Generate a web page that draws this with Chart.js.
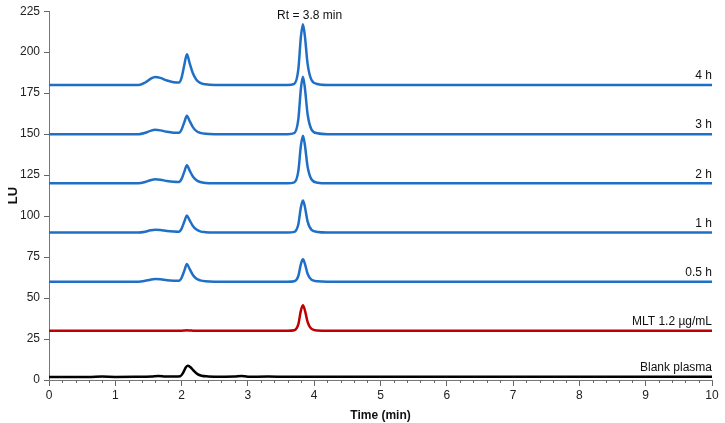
<!DOCTYPE html>
<html><head><meta charset="utf-8">
<script src="https://cdn.jsdelivr.net/npm/chart.js@4"></script>
<style>html,body{margin:0;padding:0;background:#fff}</style>
</head><body>
<canvas id="c" width="725" height="423"></canvas>
<script>
// Shared time points (min)
const times = [0, 1.35, 1.45, 1.53, 1.6, 1.68, 1.78, 1.88, 1.96, 2.0, 2.04, 2.08, 2.12, 2.17, 2.22, 2.28, 2.36, 2.5, 3.6, 3.7, 3.76, 3.8, 3.83, 3.86, 3.9, 3.96, 4.05, 4.2, 10];
const trace4h  = [180, 180, 181.5, 183.7, 184.9, 184.3, 182.7, 181.7, 181.5, 184.5, 192, 198.7, 193.5, 187.1, 183.4, 181.3, 180.4, 180, 180, 180.7, 189.3, 209.6, 217, 209.6, 193, 183, 180.6, 180, 180];
const trace3h  = [150, 150, 150.8, 152, 152.6, 152.3, 151.4, 150.9, 150.8, 152.8, 157.2, 161.2, 158.1, 154.3, 152, 150.8, 150.2, 150, 150, 150.7, 158.8, 178, 185, 178, 162.3, 152.8, 150.5, 150, 150];
const trace2h  = [120, 120, 120.8, 121.9, 122.5, 122.2, 121.4, 120.9, 120.8, 122.7, 127, 131, 127.9, 124.2, 122, 120.8, 120.2, 120, 120, 120.6, 127.3, 143.2, 149, 143.2, 130.2, 122.3, 120.4, 120, 120];
const trace1h  = [90, 90, 90.5, 91.3, 91.7, 91.5, 90.9, 90.6, 90.5, 92.4, 96.5, 100.4, 97.5, 94, 91.9, 90.7, 90.2, 90, 90, 90.4, 94.9, 105.6, 109.5, 105.6, 96.8, 91.6, 90.3, 90, 90];
const trace05h = [60, 60, 60.5, 61.2, 61.6, 61.4, 60.9, 60.6, 60.5, 62.4, 66.6, 70.8, 67.8, 64.1, 61.9, 60.8, 60.2, 60, 60, 60.3, 63.4, 70.9, 73.6, 70.9, 64.8, 61.1, 60.2, 60, 60];
const traceMLT = [30, 30, 30, 30, 30, 30, 30, 30, 30, 30.1, 30.2, 30.3, 30.2, 30.1, 30, 30, 30, 30, 30, 30.3, 33.9, 42.5, 45.6, 42.5, 35.5, 31.2, 30.2, 30, 30];
// Blank plasma has its own sampling
const blankTimes = [0, 0.3, 0.6, 0.8, 1.0, 1.3, 1.55, 1.65, 1.75, 1.9, 1.98, 2.02, 2.06, 2.09, 2.13, 2.18, 2.24, 2.3, 2.4, 2.6, 2.8, 2.9, 3.0, 3.3, 3.6, 4.0, 5, 6, 7, 8, 9, 10];
const traceBlank = [1.8, 1.9, 1.8, 2.1, 1.9, 2.0, 2.2, 2.5, 2.2, 2.1, 2.3, 4.2, 7.5, 8.7, 8.0, 5.8, 3.6, 2.6, 2.2, 2.0, 2.1, 2.5, 2.0, 2.1, 2.0, 2.0, 2.0, 2.0, 2.0, 2.0, 2.0, 2.0];

const seriesLabels = ['4 h', '3 h', '2 h', '1 h', '0.5 h', 'MLT 1.2 µg/mL', 'Blank plasma'];
const labelLevels = [180, 150, 120, 90, 60, 30, 2];
const seriesColors = ['#1f6fc6', '#1f6fc6', '#1f6fc6', '#1f6fc6', '#1f6fc6', '#c00000', '#000000'];
const yTicks = [0, 25, 50, 75, 100, 125, 150, 175, 200, 225];
const xTicks = [0, 1, 2, 3, 4, 5, 6, 7, 8, 9, 10];
const annotationText = 'Rt = 3.8 min';
const annotationAt = {x: 3.93, y: 222.5};

const traces = [trace4h, trace3h, trace2h, trace1h, trace05h, traceMLT];
const datasets = traces.map((tr, i) => ({
  label: seriesLabels[i],
  data: times.map((t, k) => ({x: t, y: tr[k]})),
  borderColor: seriesColors[i], borderWidth: 2.5, pointRadius: 0,
  cubicInterpolationMode: 'monotone', fill: false
}));
datasets.push({
  label: seriesLabels[6],
  data: blankTimes.map((t, k) => ({x: t, y: traceBlank[k]})),
  borderColor: seriesColors[6], borderWidth: 2.5, pointRadius: 0,
  cubicInterpolationMode: 'monotone', fill: false
});

const FONT = "'Liberation Sans', Arial, sans-serif";

const decor = {
  id: 'decor',
  afterDraw(chart) {
    const ctx = chart.ctx, xs = chart.scales.x, ys = chart.scales.y;
    ctx.save();
    // minor ticks on x axis
    ctx.strokeStyle = '#666'; ctx.lineWidth = 1;
    const y0 = ys.bottom;
    for (let i = 0; i < xTicks.length - 1; i++) {
      const a = xTicks[i], b = xTicks[i + 1];
      for (let j = 1; j < 5; j++) {
        const px = Math.round(xs.getPixelForValue(a + (b - a) * j / 5)) + 0.5;
        ctx.beginPath(); ctx.moveTo(px, y0); ctx.lineTo(px, y0 + 3); ctx.stroke();
      }
    }
    // series labels
    ctx.fillStyle = '#111';
    ctx.font = '12px ' + FONT;
    ctx.textAlign = 'right'; ctx.textBaseline = 'bottom';
    const xr = xs.getPixelForValue(10);
    seriesLabels.forEach((s, i) => {
      ctx.fillText(s, xr, ys.getPixelForValue(labelLevels[i]) - 3);
    });
    ctx.textAlign = 'center'; ctx.textBaseline = 'middle';
    ctx.fillText(annotationText, xs.getPixelForValue(annotationAt.x), ys.getPixelForValue(annotationAt.y));
    ctx.restore();
  }
};

new Chart(document.getElementById('c'), {
  type: 'line',
  data: {datasets},
  options: {
    responsive: false, animation: false, devicePixelRatio: 1,
    layout: {padding: {left: 0, right: 13, top: 10, bottom: 0}},
    plugins: {legend: {display: false}, tooltip: {enabled: false}},
    scales: {
      x: {
        type: 'linear', min: 0, max: 10,
        afterBuildTicks: s => { s.ticks = xTicks.map(v => ({value: v})); },
        afterFit: s => { s.height = 43; },
        border: {color: '#777', width: 1},
        grid: {drawOnChartArea: false, tickLength: 6, color: '#666'},
        ticks: {color: '#222', font: {family: FONT, size: 12}, padding: 2, maxRotation: 0},
        title: {display: true, text: 'Time (min)', color: '#111', font: {family: "'Liberation Sans Narrow', " + FONT, size: 12, weight: 'bold'}, padding: {top: 1, bottom: 0}}
      },
      y: {
        type: 'linear', min: 0, max: 225,
        afterBuildTicks: s => { s.ticks = yTicks.map(v => ({value: v})); },
        afterFit: s => { s.width = 49; },
        border: {color: '#777', width: 1},
        grid: {drawOnChartArea: false, tickLength: 5, color: '#666'},
        ticks: {color: '#222', font: {family: FONT, size: 12}, padding: 4},
        title: {display: true, text: 'LU', color: '#111', font: {family: FONT, size: 13, weight: 'bold'}, padding: {top: 6, bottom: 0}}
      }
    }
  },
  plugins: [decor]
});
</script>
</body></html>
